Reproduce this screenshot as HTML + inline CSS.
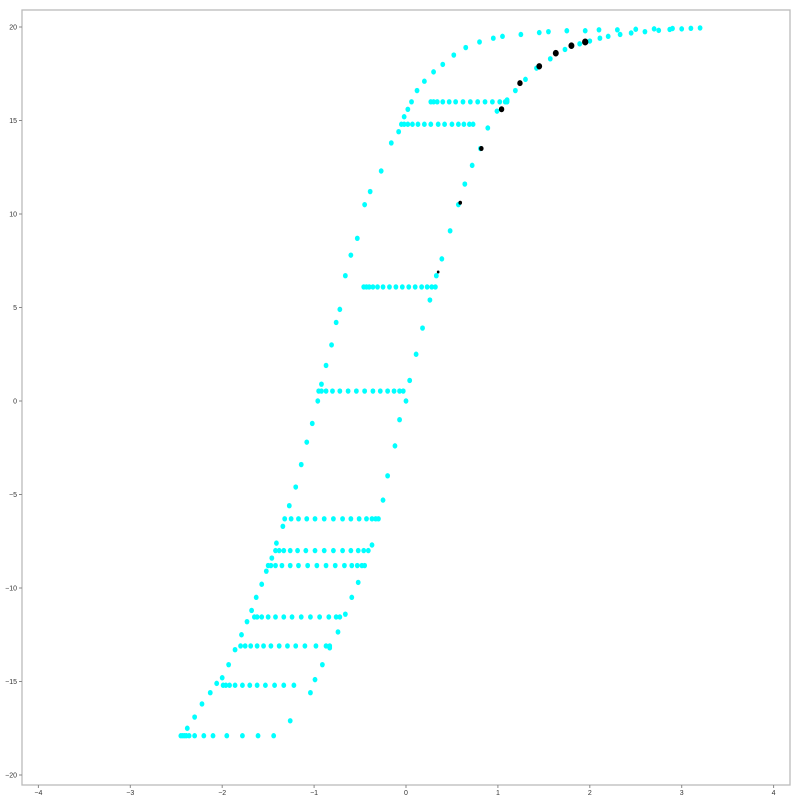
<!DOCTYPE html>
<html><head><meta charset="utf-8"><style>
html,body{margin:0;padding:0;background:#fff;}
svg{display:block;font-family:"Liberation Sans","DejaVu Sans",sans-serif;}
</style></head><body>
<svg id="chart" width="800" height="800" viewBox="0 0 800 800" xmlns="http://www.w3.org/2000/svg"></svg>
<script>
const xTicks=[-4,-3,-2,-1,0,1,2,3,4];
const yTicks=[-20,-15,-10,-5,0,5,10,15,20];
const rowYs=[-17.9,-15.2,-13.1,-11.55,-8.8,-8.0,-6.3,0.53,6.1,14.8,16.0];
const rowXs=[
[-2.43,-2.41,-2.39,-2.36,-2.30,-2.20,-2.10,-1.95,-1.78,-1.61,-1.44],
[-1.99,-1.96,-1.92,-1.86,-1.78,-1.70,-1.62,-1.53,-1.43,-1.33,-1.22],
[-1.80,-1.75,-1.69,-1.62,-1.55,-1.47,-1.38,-1.29,-1.20,-1.10,-0.98,-0.87,-0.83],
[-1.65,-1.62,-1.57,-1.50,-1.42,-1.33,-1.24,-1.14,-1.04,-0.94,-0.84,-0.76,-0.72],
[-1.50,-1.47,-1.42,-1.35,-1.26,-1.17,-1.07,-0.97,-0.87,-0.77,-0.67,-0.59,-0.53,-0.48],
[-1.42,-1.38,-1.33,-1.26,-1.18,-1.09,-0.99,-0.89,-0.79,-0.69,-0.60,-0.52,-0.46,-0.41],
[-1.32,-1.25,-1.17,-1.08,-0.99,-0.89,-0.79,-0.69,-0.60,-0.51,-0.43,-0.37,-0.33],
[-0.95,-0.92,-0.87,-0.80,-0.72,-0.63,-0.54,-0.45,-0.36,-0.28,-0.20,-0.13,-0.07,-0.03],
[-0.46,-0.43,-0.40,-0.36,-0.31,-0.25,-0.18,-0.11,-0.04,0.03,0.10,0.17,0.23,0.28,0.32],
[-0.05,-0.02,0.02,0.07,0.13,0.20,0.27,0.35,0.42,0.50,0.57,0.63,0.69,0.73],
[0.27,0.30,0.34,0.40,0.47,0.54,0.62,0.70,0.78,0.86,0.94,1.02,1.08,1.10]];
const leftX=[-2.45,-2.38,-2.30,-2.22,-2.13,-2.06,-2.0,-1.93,-1.86,-1.79,-1.73,-1.68,-1.63,-1.57,-1.52,-1.46,-1.41,-1.34,-1.27,-1.20,-1.14,-1.08,-1.02,-0.96,-0.92,-0.87,-0.81,-0.76,-0.72,-0.66,-0.60,-0.53,-0.45,-0.39,-0.27,-0.16,-0.08,-0.02,0.02,0.06,0.12,0.20,0.30,0.40,0.52,0.65,0.80,0.95,1.05,1.25,1.45,1.55,1.75,1.95,2.10,2.30,2.50,2.70,2.90,3.10];
const leftY=[-17.9,-17.5,-16.9,-16.2,-15.6,-15.1,-14.8,-14.1,-13.3,-12.5,-11.8,-11.2,-10.5,-9.8,-9.1,-8.4,-7.6,-6.7,-5.6,-4.6,-3.4,-2.2,-1.2,0.0,0.9,1.9,3.0,4.2,4.9,6.7,7.8,8.7,10.5,11.2,12.3,13.8,14.4,15.2,15.6,16.0,16.6,17.1,17.6,18.0,18.5,18.9,19.2,19.4,19.5,19.6,19.7,19.75,19.8,19.8,19.85,19.85,19.88,19.9,19.92,19.93];
const rightX=[-1.26,-1.04,-0.99,-0.91,-0.83,-0.74,-0.66,-0.59,-0.52,-0.45,-0.37,-0.30,-0.25,-0.20,-0.12,-0.07,0.0,0.04,0.11,0.18,0.26,0.33,0.39,0.48,0.57,0.64,0.72,0.81,0.89,0.99,1.10,1.19,1.30,1.42,1.57,1.73,1.89,2.0,2.11,2.2,2.33,2.45,2.60,2.75,2.87,3.0,3.20];
const rightY=[-17.1,-15.6,-14.9,-14.1,-13.2,-12.35,-11.4,-10.5,-9.7,-8.8,-7.7,-6.3,-5.3,-4.0,-2.4,-1.0,0.0,1.1,2.5,3.9,5.4,6.7,7.6,9.1,10.5,11.6,12.6,13.5,14.6,15.5,16.1,16.6,17.2,17.8,18.3,18.8,19.1,19.25,19.4,19.5,19.6,19.68,19.75,19.82,19.87,19.9,19.95];
const blackX=[0.35,0.59,0.82,1.04,1.24,1.45,1.63,1.80,1.95];
const blackY=[6.9,10.6,13.5,15.6,17.0,17.9,18.6,19.0,19.2];
const blackS=[1.5,2,2.5,3,3,3.2,3.3,3.3,3.5];

const svg=document.getElementById('chart');
const NS='http://www.w3.org/2000/svg';
const L=22,R=790,T=10,B=785;
const sx=v=>406+v*91.9;
const sy=v=>401-v*18.7;
function mk(tag,attrs){const e=document.createElementNS(NS,tag);for(const k in attrs)e.setAttribute(k,attrs[k]);svg.appendChild(e);return e;}

const frame=mk('rect',{x:L,y:T,width:R-L,height:B-T,fill:'none',stroke:'#bbb','stroke-width':1.3});



xTicks.forEach(t=>{
  const x=sx(t);
  const tk=mk('line',{x1:x,x2:x,y1:B,y2:B+3,stroke:'#888','stroke-width':1});
  
  
  const lb=mk('text',{x:x,y:B+10,'font-size':7,'text-anchor':'middle',fill:'#333'});
  lb.textContent=(t<0?'\u2212'+(-t):t);
  
  
});
yTicks.forEach(t=>{
  const y=sy(t);
  const tk=mk('line',{x1:L-3,x2:L,y1:y,y2:y,stroke:'#888','stroke-width':1});
  
  
  const lb=mk('text',{x:L-5,y:y+2.5,'font-size':7,'text-anchor':'end',fill:'#333'});
  lb.textContent=(t<0?'\u2212'+(-t):t);
  
  
});

function cyan(x,y){
  const p=mk('ellipse',{cx:sx(x),cy:sy(y),rx:2.4,ry:2.7,fill:'#00ffff'});
  
  
}
rowYs.forEach((yy,i)=>rowXs[i].forEach(xx=>cyan(xx,yy)));
leftX.forEach((x,i)=>cyan(x,leftY[i]));
rightX.forEach((x,i)=>cyan(x,rightY[i]));
blackX.forEach((x,i)=>{
  const p=mk('ellipse',{cx:sx(x),cy:sy(blackY[i]),rx:blackS[i]*0.9,ry:blackS[i],fill:'#000'});
  
  
});
</script>
</body></html>
